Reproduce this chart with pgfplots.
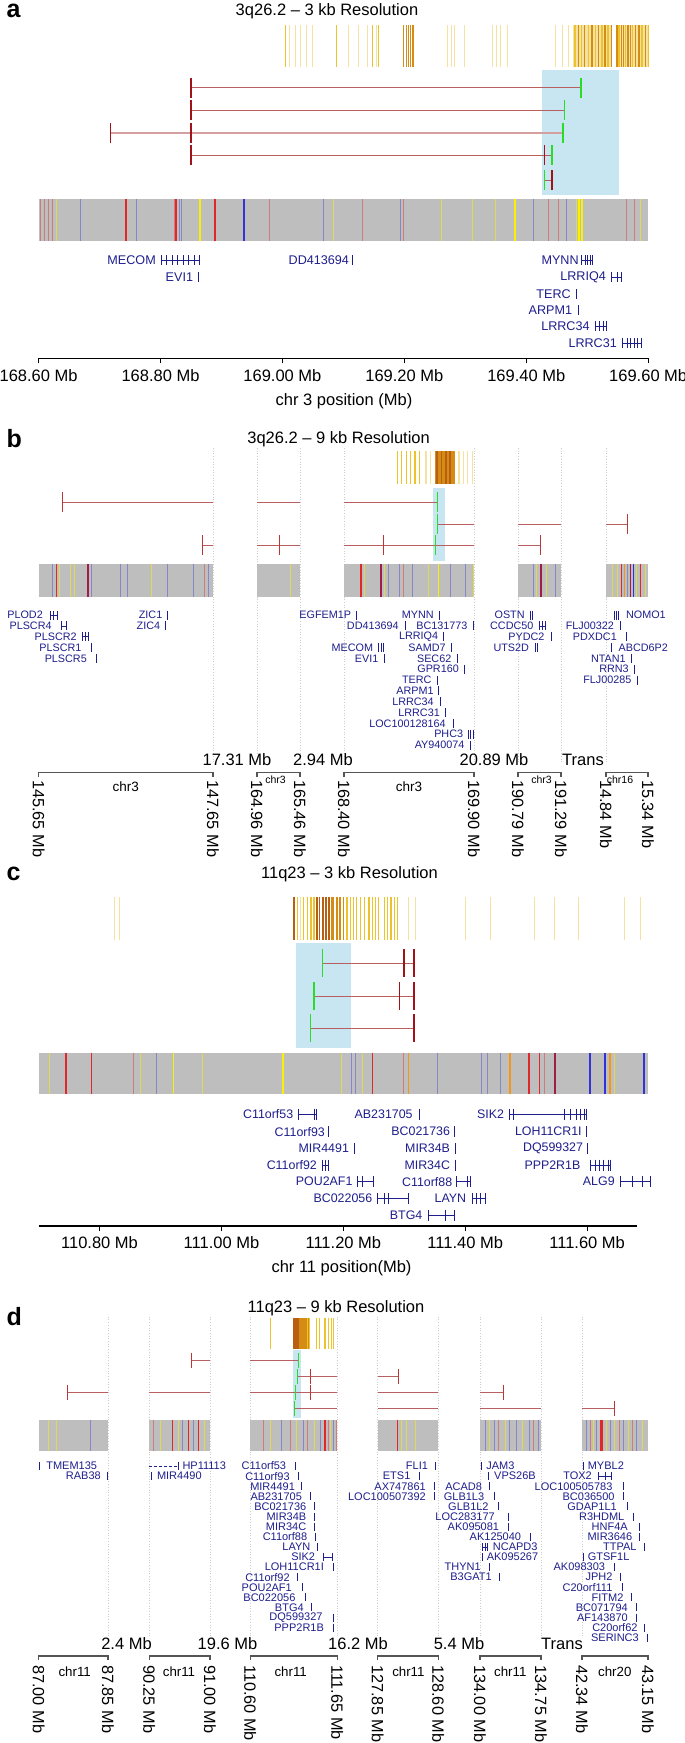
\documentclass[border=0pt]{standalone}
\usepackage{pgfplots}
\pgfplotsset{compat=1.18}
\usepackage{fontspec}
\setmainfont{Liberation Sans}

\definecolor{trk}{RGB}{190,190,190}
\definecolor{tred}{RGB}{225,40,40}
\definecolor{tblu}{RGB}{50,50,215}
\definecolor{tyel}{RGB}{250,240,0}
\definecolor{tora}{RGB}{245,150,20}
\definecolor{tpur}{RGB}{160,30,70}
\colorlet{fred}{tred!45!trk}
\colorlet{fblu}{tblu!40!trk}
\colorlet{fyel}{tyel!55!trk}
\definecolor{ob1}{RGB}{236,195,45}
\definecolor{ob2}{RGB}{246,226,160}
\definecolor{ob3}{RGB}{212,140,20}
\definecolor{ob4}{RGB}{185,95,20}
\definecolor{lnk}{RGB}{185,95,95}
\definecolor{tkred}{RGB}{160,20,25}
\definecolor{tkred2}{RGB}{185,55,55}
\definecolor{tkgrn}{RGB}{40,220,40}
\definecolor{hibox}{RGB}{200,230,242}
\definecolor{genec}{RGB}{30,30,140}
\definecolor{brk}{RGB}{85,85,85}
\definecolor{dots}{RGB}{205,205,205}

\newcommand{\fs}[1]{\fontsize{#1}{#1}\selectfont}
\newcommand{\gf}{\fs{12.6}}
\tikzset{gene/.style={inner sep=0pt, text=genec, font=\gf}}
\newcommand{\gL}[3]{\node[gene,anchor=east] at (axis cs:#1,#2) {#3};}
\newcommand{\gR}[3]{\node[gene,anchor=west] at (axis cs:#1,#2) {#3};}
\newcommand{\rl}[3]{\node[rotate=-90,anchor=west,inner sep=0pt,font=\fs{16.3}] at (axis cs:#1,#2) {#3};}

\pgfplotsset{
  every axis/.append style={scale only axis, clip=false, unbounded coords=jump},
  strip/.style 2 args={only marks, mark=|, mark size=#1, mark options={line width=#2}},
  lnk/.style={draw=lnk, line width=1pt},
  mbaxis/.style={axis x line*=bottom, hide y axis,
    axis line style={-, line width=1.2pt, black},
    xtick align=outside, major tick length=5pt,
    tick style={line width=1.1pt, black},
    scaled x ticks=false,
    xticklabel={\pgfmathprintnumber[fixed,fixed zerofill,precision=2,assume math mode=true]{\tick}~Mb},
    xticklabel style={font=\fs{16.5}, inner sep=0pt, anchor=north, yshift=-5.8pt}},
}

\begin{document}
\begin{tikzpicture}
\useasboundingbox (0pt,0pt) rectangle (685pt,-1743pt);

% ---------------- panel a ----------------
\begin{axis}[at={(38.6pt,0pt)}, anchor=north west, width=609.6pt, height=358.3pt,
  xmin=168.6, xmax=169.6, ymin=-358.3, ymax=0, mbaxis,
  xtick={168.6,168.8,169.0,169.2,169.4,169.6}]
\addplot[fill=hibox, draw=none] coordinates {(169.425,-70)(169.552,-70)(169.552,-195)(169.425,-195)};
\addplot[fill=ob2, draw=none] coordinates {(169.480,-25)(169.540,-25)(169.540,-67)(169.480,-67)};
\addplot[fill=ob2, draw=none] coordinates {(169.549,-25)(169.601,-25)(169.601,-67)(169.549,-67)};
\addplot[strip={21pt}{1pt}, color=ob2] coordinates {(169.012,-46)(169.021,-46)(169.030,-46)(169.039,-46)(169.050,-46)(169.109,-46)(169.124,-46)(169.140,-46)(169.155,-46)(169.271,-46)(169.277,-46)(169.282,-46)(169.299,-46)(169.344,-46)(169.351,-46)(169.358,-46)(169.369,-46)(169.448,-46)(169.459,-46)(169.470,-46)(169.477,-46)};
\addplot[strip={21pt}{1.3pt}, color=ob1] coordinates {(169.005,-46)(169.089,-46)(169.148,-46)(169.158,-46)(169.480,-46)(169.491,-46)(169.502,-46)(169.513,-46)(169.524,-46)(169.534,-46)(169.552,-46)(169.563,-46)(169.574,-46)(169.590,-46)(169.601,-46)};
\addplot[strip={21pt}{1.3pt}, color=ob3] coordinates {(169.199,-46)(169.203,-46)(169.207,-46)(169.210,-46)(169.214,-46)(169.486,-46)(169.496,-46)(169.508,-46)(169.518,-46)(169.529,-46)(169.540,-46)(169.549,-46)(169.556,-46)(169.560,-46)(169.567,-46)(169.571,-46)(169.579,-46)(169.585,-46)(169.596,-46)};
% interactions
\addplot[lnk] coordinates {(168.850,-87.7)(169.490,-87.7)};
\addplot[lnk] coordinates {(168.850,-110)(169.463,-110)};
\addplot[lnk, line width=1.6pt, draw=lnk!60!white] coordinates {(168.718,-132.7)(169.460,-132.7)};
\addplot[lnk] coordinates {(168.850,-155.3)(169.442,-155.3)};
\addplot[lnk] coordinates {(169.430,-180)(169.442,-180)};
\addplot[strip={10pt}{1.6pt}, color=tkred] coordinates {(168.850,-87.7)(168.850,-110)(168.718,-132.7)(168.850,-132.7)(168.850,-155.3)(169.430,-155.3)(169.442,-180)};
\addplot[strip={10pt}{1.6pt}, color=tkgrn] coordinates {(169.490,-87.7)(169.463,-110)(169.460,-132.7)(169.442,-155.3)(169.430,-180)};
% track
\addplot[fill=trk, draw=none] coordinates {(168.6,-199.3)(169.6,-199.3)(169.6,-241)(168.6,-241)};
\addplot[strip={20.85pt}{0.8pt}, color=fred] coordinates {(168.603,-220.15)(168.609,-220.15)(168.616,-220.15)(168.622,-220.15)(168.823,-220.15)(168.978,-220.15)(169.131,-220.15)(169.199,-220.15)(169.437,-220.15)(169.452,-220.15)(169.565,-220.15)(169.578,-220.15)};
\addplot[strip={20.85pt}{0.8pt}, color=fblu] coordinates {(168.669,-220.15)(168.760,-220.15)(168.831,-220.15)(168.834,-220.15)(169.068,-220.15)(169.194,-220.15)(169.412,-220.15)(169.466,-220.15)};
\addplot[strip={20.85pt}{0.8pt}, color=fyel] coordinates {(168.629,-220.15)(169.084,-220.15)(169.261,-220.15)(169.311,-220.15)(169.349,-220.15)(169.482,-220.15)(169.588,-220.15)};
\addplot[strip={20.85pt}{1.8pt}, color=tred] coordinates {(168.744,-220.15)(168.826,-220.15)(168.890,-220.15)};
\addplot[strip={20.85pt}{1.8pt}, color=tblu] coordinates {(168.937,-220.15)};
\addplot[strip={20.85pt}{2pt}, color=tyel] coordinates {(168.865,-220.15)(169.381,-220.15)(169.486,-220.15)(169.491,-220.15)};
% genes
\addplot[draw=genec, line width=0.6pt] coordinates {(168.8018,-260)(168.8645,-260) (nan,nan) (169.4913,-260)(169.5093,-260) (nan,nan) (169.5402,-277.3)(169.5561,-277.3) (nan,nan) (169.5129,-326)(169.5309,-326) (nan,nan) (169.5583,-343.3)(169.5885,-343.3)};
\addplot[strip={5pt}{0.9pt}, color=genec] coordinates {(168.8018,-260)(168.8105,-260)(168.8191,-260)(168.8285,-260)(168.8378,-260)(168.8465,-260)(168.8558,-260)(168.8645,-260)(168.8630,-277.3)(169.1152,-260)(169.4913,-260)(169.4963,-260)(169.5006,-260)(169.5057,-260)(169.5093,-260)(169.5402,-277.3)(169.5489,-277.3)(169.5561,-277.3)(169.4826,-294)(169.4862,-310)(169.5129,-326)(169.5201,-326)(169.5273,-326)(169.5309,-326)(169.5583,-343.3)(169.5655,-343.3)(169.5712,-343.3)(169.5777,-343.3)(169.5828,-343.3)(169.5885,-343.3)};
\gL{168.7925}{-260}{MECOM}
\gL{168.8537}{-277.3}{EVI1}
\gL{169.1094}{-260}{DD413694}
\gL{169.4862}{-260}{MYNN}
\gL{169.5309}{-277.3}{LRRIQ4}
\gL{169.4732}{-294}{TERC}
\gL{169.4754}{-310}{ARPM1}
\gL{169.5042}{-326}{LRRC34}
\gL{169.5489}{-343.3}{LRRC31}
\node[font=\fs{16.5}] at (axis cs:169.101,-401.7) {chr 3 position (Mb)};
\end{axis}

% ---------------- panel b ----------------
\renewcommand{\gf}{\fs{10.8}}
\begin{axis}[at={(0pt,-420pt)}, anchor=north west, width=685pt, height=440pt,
  xmin=0, xmax=685, ymin=-860, ymax=-420, hide axis]
\addplot[draw=dots, dotted, line width=0.7pt] coordinates {(213,-448)(213,-763) (nan,nan) (257,-448)(257,-763) (nan,nan) (300,-448)(300,-763) (nan,nan) (344,-448)(344,-763) (nan,nan) (474,-448)(474,-763) (nan,nan) (518,-448)(518,-763) (nan,nan) (561,-448)(561,-763) (nan,nan) (606,-448)(606,-763)};
\addplot[fill=ob3, draw=none] coordinates {(434.8,-450.7)(454.5,-450.7)(454.5,-484)(434.8,-484)};
\addplot[strip={16.65pt}{1.3pt}, color=ob1] coordinates {(397.4,-467.35)(401.8,-467.35)(406.2,-467.35)(410.6,-467.35)(415,-467.35)(419.4,-467.35)};
\addplot[strip={16.65pt}{1.2pt}, color=ob2] coordinates {(426,-467.35)(430.4,-467.35)(458.9,-467.35)(463.3,-467.35)(467.7,-467.35)(472.1,-467.35)};
\addplot[strip={16.65pt}{1.5pt}, color=ob4] coordinates {(437,-467.35)(441.4,-467.35)(445.8,-467.35)(450.2,-467.35)};
\addplot[fill=hibox, draw=none] coordinates {(432.6,-487.7)(444.5,-487.7)(444.5,-560.7)(432.6,-560.7)};
\addplot[lnk, line width=0.9pt] coordinates {(62.8,-502.3)(213,-502.3) (nan,nan) (257,-502.3)(300,-502.3) (nan,nan) (344,-502.3)(437,-502.3)};
\addplot[lnk, line width=0.9pt] coordinates {(437,-524)(474,-524) (nan,nan) (518,-524)(561,-524) (nan,nan) (606,-524)(627,-524)};
\addplot[lnk, line width=0.9pt] coordinates {(202,-545.3)(213,-545.3) (nan,nan) (257,-545.3)(300,-545.3) (nan,nan) (344,-545.3)(474,-545.3) (nan,nan) (518,-545.3)(540,-545.3)};
\addplot[strip={10pt}{1pt}, color=tkred2] coordinates {(62.8,-502.3)(627,-524)(202,-545.3)(279,-545.3)(383,-545.3)(540,-545.3)};
\addplot[strip={10pt}{0.9pt}, color=tkgrn] coordinates {(437,-502.3)(437,-524)(435.7,-545.3)};
% tracks
\addplot[fill=trk, draw=none] coordinates {(38.6,-564)(213,-564)(213,-596.7)(38.6,-596.7)};
\addplot[fill=trk, draw=none] coordinates {(257,-564)(300,-564)(300,-596.7)(257,-596.7)};
\addplot[fill=trk, draw=none] coordinates {(344,-564)(474,-564)(474,-596.7)(344,-596.7)};
\addplot[fill=trk, draw=none] coordinates {(518,-564)(561,-564)(561,-596.7)(518,-596.7)};
\addplot[fill=trk, draw=none] coordinates {(606,-564)(648,-564)(648,-596.7)(606,-596.7)};
\addplot[strip={16.35pt}{0.8pt}, color=fblu] coordinates {(52.7,-580.35)(91.3,-580.35)(120.8,-580.35)(127.4,-580.35)(166.9,-580.35)(193.2,-580.35)(208.6,-580.35)(388.7,-580.35)(399.6,-580.35)(412.8,-580.35)(450.2,-580.35)(465.5,-580.35)(533.6,-580.35)(555.5,-580.35)(627.1,-580.35)};
\addplot[strip={16.35pt}{0.8pt}, color=fred] coordinates {(204.2,-580.35)(403.2,-580.35)};
\addplot[strip={16.35pt}{0.8pt}, color=fyel] coordinates {(59.3,-580.35)(70.3,-580.35)(74.7,-580.35)(151.5,-580.35)(289.9,-580.35)(364.5,-580.35)(384.3,-580.35)(428.2,-580.35)(473.4,-580.35)(536.7,-580.35)(546.8,-580.35)(612.6,-580.35)(617,-580.35)(636.8,-580.35)(645.6,-580.35)};
\addplot[strip={16.35pt}{1.4pt}, color=tred] coordinates {(56.2,-580.35)(361,-580.35)(621.4,-580.35)(640.3,-580.35)};
\addplot[strip={16.35pt}{1.4pt}, color=tpur] coordinates {(87.8,-580.35)(380.8,-580.35)(630.2,-580.35)};
\addplot[strip={16.35pt}{1.9pt}, color=tpur] coordinates {(541.1,-580.35)};
\addplot[strip={16.35pt}{1.4pt}, color=tyel] coordinates {(438.3,-580.35)};
\addplot[strip={16.35pt}{1.4pt}, color=tora] coordinates {(624.5,-580.35)};
\addplot[strip={16.35pt}{1.2pt}, color=tblu] coordinates {(633.3,-580.35)};
% genes
\addplot[draw=genec, line width=0.6pt] coordinates {(50,-615)(57,-615) (nan,nan) (61.5,-625.8)(66,-625.8) (nan,nan) (82,-636.7)(88,-636.7) (nan,nan) (539,-625.8)(545,-625.8)};
\addplot[strip={4.5pt}{1pt}, color=genec] coordinates {(50,-615)(53,-615)(57,-615)(61.5,-625.8)(66,-625.8)(82,-636.7)(85,-636.7)(88,-636.7)(91,-647.5)(96,-658.3)(167,-615)(165.6,-625.8)(356.6,-615)(439,-615)(405,-625.8)(473,-625.8)(443.6,-636.7)(378.6,-647.5)(381,-647.5)(383,-647.5)(451,-647.5)(384,-658.3)(457,-658.3)(464.6,-669.2)(437,-680)(438,-690.8)(440,-701.7)(445.7,-712.5)(453.6,-723.3)(468,-734.2)(470.5,-734.2)(473,-734.2)(470.8,-745)(530.5,-615)(532.5,-615)(539,-625.8)(542,-625.8)(545,-625.8)(551,-636.7)(535,-647.5)(537,-647.5)(614,-615)(616,-615)(618.4,-615)(620,-625.8)(626,-636.7)(611,-647.5)(631,-658.3)(634,-669.2)(637,-680)};
\gL{43}{-615}{PLOD2}
\gL{51.8}{-625.8}{PLSCR4}
\gL{76.9}{-636.7}{PLSCR2}
\gL{81.7}{-647.5}{PLSCR1}
\gL{87}{-658.3}{PLSCR5}
\gL{162.5}{-615}{ZIC1}
\gL{160.3}{-625.8}{ZIC4}
\gL{351.3}{-615}{EGFEM1P}
\gL{433.9}{-615}{MYNN}
\gL{398.8}{-625.8}{DD413694}
\gL{467.7}{-625.8}{BC131773}
\gL{438.3}{-636.7}{LRRIQ4}
\gL{373.3}{-647.5}{MECOM}
\gL{445.8}{-647.5}{SAMD7}
\gL{378.6}{-658.3}{EVI1}
\gL{451.5}{-658.3}{SEC62}
\gL{459}{-669.2}{GPR160}
\gL{431.7}{-680}{TERC}
\gL{433.9}{-690.8}{ARPM1}
\gL{433.9}{-701.7}{LRRC34}
\gL{440}{-712.5}{LRRC31}
\gL{445.8}{-723.3}{LOC100128164}
\gL{463.3}{-734.2}{PHC3}
\gL{464.6}{-745}{AY940074}
\gL{524.8}{-615}{OSTN}
\gL{533.6}{-625.8}{CCDC50}
\gL{544.6}{-636.7}{PYDC2}
\gL{529.2}{-647.5}{UTS2D}
\gR{625.9}{-615}{NOMO1}
\gL{614}{-625.8}{FLJ00322}
\gL{617}{-636.7}{PDXDC1}
\gR{618.4}{-647.5}{ABCD6P2}
\gL{625.8}{-658.3}{NTAN1}
\gL{628.9}{-669.2}{RRN3}
\gL{631.5}{-680}{FLJ00285}
% gaps, brackets, positions
\node[font=\fs{16.5}] at (axis cs:237,-760) {17.31 Mb};
\node[font=\fs{16.5}] at (axis cs:323,-760) {2.94 Mb};
\node[font=\fs{16.5}] at (axis cs:494,-760) {20.89 Mb};
\node[font=\fs{16.5}] at (axis cs:583,-760) {Trans};
\addplot[draw=brk, line width=1.3pt] coordinates {(38.6,-777)(38.6,-772.3)(213,-772.3)(213,-777) (nan,nan) (257,-777)(257,-772.3)(300,-772.3)(300,-777) (nan,nan) (344,-777)(344,-772.3)(474,-772.3)(474,-777) (nan,nan) (518,-777)(518,-772.3)(561,-772.3)(561,-777) (nan,nan) (606,-777)(606,-772.3)(648,-772.3)(648,-777)};
\node[font=\fs{13.5}] at (axis cs:125.8,-786.7) {chr3};
\node[font=\fs{10.5}] at (axis cs:275.6,-780) {chr3};
\node[font=\fs{13.5}] at (axis cs:409,-786.7) {chr3};
\node[font=\fs{10.5}] at (axis cs:541.5,-780) {chr3};
\node[font=\fs{10.5}] at (axis cs:620,-780) {chr16};
\rl{38.6}{-780}{145.65 Mb}
\rl{213}{-780}{147.65 Mb}
\rl{257}{-780}{164.96 Mb}
\rl{300}{-780}{165.46 Mb}
\rl{344}{-780}{168.40 Mb}
\rl{474}{-780}{169.90 Mb}
\rl{518}{-780}{190.79 Mb}
\rl{561}{-780}{191.29 Mb}
\rl{606}{-780}{14.84 Mb}
\rl{648}{-780}{15.34 Mb}
\end{axis}

% ---------------- panel c ----------------
\renewcommand{\gf}{\fs{12.4}}
\begin{axis}[at={(38.6pt,-860pt)}, anchor=north west, width=598.5pt, height=366pt,
  xmin=110.70, xmax=111.682, ymin=-1226, ymax=-860, mbaxis,
  xtick={110.8,111.0,111.2,111.4,111.6}]
\addplot[strip={21.65pt}{1pt}, color=ob2] coordinates {(110.825,-918.35)(110.833,-918.35)(111.130,-918.35)(111.307,-918.35)(111.318,-918.35)(111.400,-918.35)(111.442,-918.35)(111.514,-918.35)(111.546,-918.35)(111.586,-918.35)(111.661,-918.35)(111.687,-918.35)};
\addplot[strip={21.65pt}{1.3pt}, color=ob1] coordinates {(111.125,-918.35)(111.135,-918.35)(111.141,-918.35)(111.147,-918.35)(111.152,-918.35)(111.206,-918.35)(111.212,-918.35)(111.217,-918.35)(111.222,-918.35)(111.228,-918.35)(111.235,-918.35)(111.242,-918.35)(111.248,-918.35)(111.253,-918.35)(111.258,-918.35)(111.267,-918.35)(111.272,-918.35)(111.278,-918.35)(111.284,-918.35)(111.289,-918.35)};
\addplot[strip={21.65pt}{1.6pt}, color=ob3] coordinates {(111.181,-918.35)(111.184,-918.35)(111.190,-918.35)(111.195,-918.35)(111.200,-918.35)};
\addplot[strip={21.65pt}{1.8pt}, color=ob4] coordinates {(111.119,-918.35)(111.157,-918.35)(111.161,-918.35)(111.166,-918.35)(111.171,-918.35)(111.176,-918.35)};
\addplot[fill=hibox, draw=none] coordinates {(111.123,-943.3)(111.213,-943.3)(111.213,-1048.3)(111.123,-1048.3)};
\addplot[lnk] coordinates {(111.166,-963.3)(111.316,-963.3)};
\addplot[lnk] coordinates {(111.152,-996)(111.316,-996)};
\addplot[lnk] coordinates {(111.146,-1028.3)(111.316,-1028.3)};
\addplot[strip={14pt}{1.6pt}, color=tkred] coordinates {(111.300,-963.3)(111.316,-963.3)(111.292,-996)(111.316,-996)(111.316,-1028.3)};
\addplot[strip={14pt}{1.6pt}, color=tkgrn] coordinates {(111.166,-963.3)(111.152,-996)(111.146,-1028.3)};
% track
\addplot[fill=trk, draw=none] coordinates {(110.70,-1052.7)(111.70,-1052.7)(111.70,-1094.3)(110.70,-1094.3)};
\addplot[strip={20.8pt}{0.8pt}, color=fyel] coordinates {(110.717,-1073.5)(110.867,-1073.5)(110.968,-1073.5)(111.197,-1073.5)(111.231,-1073.5)(111.644,-1073.5)};
\addplot[strip={20.8pt}{1.2pt}, color=tyel] coordinates {(110.921,-1073.5)(111.101,-1073.5)};
\addplot[strip={20.8pt}{0.8pt}, color=fred] coordinates {(110.855,-1073.5)(111.298,-1073.5)(111.530,-1073.5)};
\addplot[strip={20.8pt}{1.2pt}, color=tred] coordinates {(110.745,-1073.5)(110.787,-1073.5)(111.248,-1073.5)(111.522,-1073.5)};
\addplot[strip={20.8pt}{2.2pt}, color=tred] coordinates {(111.505,-1073.5)};
\addplot[strip={20.8pt}{2.2pt}, color=tpur] coordinates {(111.547,-1073.5)};
\addplot[strip={20.8pt}{0.8pt}, color=fblu] coordinates {(110.894,-1073.5)(111.213,-1073.5)(111.220,-1073.5)(111.355,-1073.5)(111.426,-1073.5)(111.436,-1073.5)(111.458,-1073.5)};
\addplot[strip={20.8pt}{2pt}, color=tblu] coordinates {(111.604,-1073.5)(111.630,-1073.5)(111.694,-1073.5)};
\addplot[strip={20.8pt}{1.5pt}, color=tora] coordinates {(111.307,-1073.5)};
\addplot[strip={20.8pt}{2.2pt}, color=tora] coordinates {(111.474,-1073.5)(111.638,-1073.5)};
% genes
\addplot[draw=genec, line width=0.6pt] coordinates {(111.1267,-1114)(111.1555,-1114) (nan,nan) (111.4725,-1114)(111.5986,-1114) (nan,nan) (111.1663,-1165)(111.1757,-1165) (nan,nan) (111.6058,-1165)(111.6383,-1165) (nan,nan) (111.2239,-1181.7)(111.2492,-1181.7) (nan,nan) (111.3861,-1181.7)(111.4091,-1181.7) (nan,nan) (111.6548,-1181.7)(111.7031,-1181.7) (nan,nan) (111.2564,-1198.7)(111.3068,-1198.7) (nan,nan) (111.4113,-1198.7)(111.4329,-1198.7) (nan,nan) (111.3392,-1215.7)(111.3825,-1215.7)};
\addplot[strip={5.5pt}{0.9pt}, color=genec] coordinates {(111.1267,-1114)(111.1519,-1114)(111.1555,-1114)(111.3248,-1114)(111.4725,-1114)(111.4797,-1114)(111.5626,-1114)(111.5734,-1114)(111.5820,-1114)(111.5892,-1114)(111.5950,-1114)(111.5986,-1114)(111.1757,-1131.7)(111.3825,-1131.7)(111.5993,-1131.7)(111.2189,-1148.3)(111.3846,-1148.3)(111.6008,-1148.3)(111.1663,-1165)(111.1700,-1165)(111.1757,-1165)(111.3846,-1165)(111.6058,-1165)(111.6130,-1165)(111.6202,-1165)(111.6275,-1165)(111.6347,-1165)(111.6383,-1165)(111.2239,-1181.7)(111.2311,-1181.7)(111.2492,-1181.7)(111.3861,-1181.7)(111.4041,-1181.7)(111.4091,-1181.7)(111.6548,-1181.7)(111.6743,-1181.7)(111.6901,-1181.7)(111.7031,-1181.7)(111.2564,-1198.7)(111.2672,-1198.7)(111.2744,-1198.7)(111.3068,-1198.7)(111.4113,-1198.7)(111.4185,-1198.7)(111.4257,-1198.7)(111.4329,-1198.7)(111.3392,-1215.7)(111.3680,-1215.7)(111.3825,-1215.7)};
\gL{111.1180}{-1114}{C11orf53}
\gL{111.3140}{-1114}{AB231705}
\gL{111.4639}{-1114}{SIK2}
\gL{111.1699}{-1131.7}{C11orf93}
\gL{111.3753}{-1131.7}{BC021736}
\gL{111.5914}{-1131.7}{LOH11CR1I}
\gL{111.2095}{-1148.3}{MIR4491}
\gL{111.3753}{-1148.3}{MIR34B}
\gL{111.5936}{-1148.3}{DQ599327}
\gL{111.1569}{-1165}{C11orf92}
\gL{111.3753}{-1165}{MIR34C}
\gL{111.5892}{-1165}{PPP2R1B}
\gL{111.2153}{-1181.7}{POU2AF1}
\gL{111.3789}{-1181.7}{C11orf88}
\gL{111.6455}{-1181.7}{ALG9}
\gL{111.2477}{-1198.7}{BC022056}
\gL{111.4019}{-1198.7}{LAYN}
\gL{111.3299}{-1215.7}{BTG4}
\node[font=\fs{16.5}] at (axis cs:111.197,-1268.3) {chr 11 position(Mb)};
\end{axis}

% ---------------- panel d ----------------
\renewcommand{\gf}{\fs{11}}
\begin{axis}[at={(0pt,-1290pt)}, anchor=north west, width=685pt, height=453pt,
  xmin=0, xmax=685, ymin=-1743, ymax=-1290, hide axis]
\addplot[draw=dots, dotted, line width=0.7pt] coordinates {(108,-1316.7)(108,-1636.7) (nan,nan) (149.3,-1316.7)(149.3,-1636.7) (nan,nan) (210,-1316.7)(210,-1636.7) (nan,nan) (250.3,-1316.7)(250.3,-1636.7) (nan,nan) (337.3,-1316.7)(337.3,-1636.7) (nan,nan) (377.7,-1316.7)(377.7,-1636.7) (nan,nan) (438.3,-1316.7)(438.3,-1636.7) (nan,nan) (480,-1316.7)(480,-1636.7) (nan,nan) (541,-1316.7)(541,-1636.7) (nan,nan) (582,-1316.7)(582,-1636.7)};
\addplot[fill=ob3, draw=none] coordinates {(293.4,-1318.3)(310,-1318.3)(310,-1349.3)(293.4,-1349.3)};
\addplot[strip={15.5pt}{1.2pt}, color=ob1] coordinates {(270.1,-1333.8)(307.4,-1333.8)(309.2,-1333.8)(316.2,-1333.8)(319.7,-1333.8)(325,-1333.8)(328.5,-1333.8)(331.6,-1333.8)(333.8,-1333.8)};
\addplot[strip={15.5pt}{1.5pt}, color=ob4] coordinates {(293.4,-1333.8)(295.1,-1333.8)(296.9,-1333.8)(298.6,-1333.8)};
\addplot[fill=hibox, draw=none] coordinates {(293.4,-1350)(301.3,-1350)(301.3,-1418.3)(293.4,-1418.3)};
\addplot[lnk, line width=0.9pt] coordinates {(191,-1360.7)(210,-1360.7) (nan,nan) (250.3,-1360.7)(298.6,-1360.7)};
\addplot[lnk, line width=0.9pt] coordinates {(297.3,-1376.7)(337.3,-1376.7) (nan,nan) (377.7,-1376.7)(398,-1376.7)};
\addplot[lnk, line width=0.9pt] coordinates {(67.2,-1392.7)(108,-1392.7) (nan,nan) (149.3,-1392.7)(210,-1392.7) (nan,nan) (250.3,-1392.7)(337.3,-1392.7) (nan,nan) (377.7,-1392.7)(438.3,-1392.7) (nan,nan) (480,-1392.7)(503,-1392.7)};
\addplot[lnk, line width=0.9pt] coordinates {(294,-1408.3)(337.3,-1408.3) (nan,nan) (377.7,-1408.3)(438.3,-1408.3) (nan,nan) (480,-1408.3)(541,-1408.3) (nan,nan) (582,-1408.3)(614.8,-1408.3)};
\addplot[strip={7.5pt}{1pt}, color=tkred2] coordinates {(191,-1360.7)(310,-1376.7)(398,-1376.7)(67.2,-1392.7)(310,-1392.7)(503,-1392.7)(614.8,-1408.3)};
\addplot[strip={7.5pt}{0.9pt}, color=tkgrn] coordinates {(298.6,-1360.7)(297.3,-1376.7)(295.6,-1392.7)(294,-1408.3)};
% tracks
\addplot[fill=trk, draw=none] coordinates {(38.6,-1420)(108,-1420)(108,-1450.7)(38.6,-1450.7)};
\addplot[fill=trk, draw=none] coordinates {(149.3,-1420)(210,-1420)(210,-1450.7)(149.3,-1450.7)};
\addplot[fill=trk, draw=none] coordinates {(250.3,-1420)(337.3,-1420)(337.3,-1450.7)(250.3,-1450.7)};
\addplot[fill=trk, draw=none] coordinates {(377.7,-1420)(438.3,-1420)(438.3,-1450.7)(377.7,-1450.7)};
\addplot[fill=trk, draw=none] coordinates {(480,-1420)(541,-1420)(541,-1450.7)(480,-1450.7)};
\addplot[fill=trk, draw=none] coordinates {(582,-1420)(648,-1420)(648,-1450.7)(582,-1450.7)};
\addplot[strip={15.35pt}{0.8pt}, color=fyel] coordinates {(48.3,-1435.35)(56.2,-1435.35)(160.3,-1435.35)(177.9,-1435.35)(204.2,-1435.35)(270.1,-1435.35)(296.4,-1435.35)(314,-1435.35)(330.3,-1435.35)(401.8,-1435.35)(406.2,-1435.35)(415,-1435.35)(489.7,-1435.35)(505,-1435.35)(522.6,-1435.35)(593.8,-1435.35)(606,-1435.35)(614.8,-1435.35)(628,-1435.35)(642.1,-1435.35)};
\addplot[strip={15.35pt}{0.8pt}, color=fblu] coordinates {(90,-1435.35)(182.3,-1435.35)(193.2,-1435.35)(281,-1435.35)(303,-1435.35)(320.6,-1435.35)(333.8,-1435.35)(485.3,-1435.35)(494,-1435.35)(509.4,-1435.35)(516,-1435.35)(529.2,-1435.35)(538,-1435.35)(586.3,-1435.35)(596.4,-1435.35)(610.4,-1435.35)(623.6,-1435.35)(636.8,-1435.35)};
\addplot[strip={15.35pt}{0.8pt}, color=fred] coordinates {(153.7,-1435.35)(263.5,-1435.35)(289.9,-1435.35)(307.4,-1435.35)(328.5,-1435.35)(336,-1435.35)(498.5,-1435.35)(533.6,-1435.35)(590.7,-1435.35)(619.2,-1435.35)(632.4,-1435.35)};
\addplot[strip={15.35pt}{1.3pt}, color=tred] coordinates {(172.2,-1435.35)(188.8,-1435.35)(198.5,-1435.35)(325,-1435.35)(397.4,-1435.35)};
\addplot[strip={15.35pt}{3pt}, color=tred] coordinates {(601.6,-1435.35)};
% genes
\addplot[draw=genec, line width=0.6pt, densely dashed] coordinates {(149.3,-1466)(178,-1466)};
\addplot[draw=genec, line width=0.6pt] coordinates {(323,-1556.9)(332.5,-1556.9) (nan,nan) (482.2,-1546.8)(487.5,-1546.8) (nan,nan) (598,-1476.1)(611,-1476.1)};
\addplot[strip={4pt}{0.9pt}, color=genec] coordinates {(39.5,-1466)(107.6,-1476.1)(178,-1466)(151.5,-1476.1)(295.6,-1466)(298.6,-1476.1)(301.7,-1486.2)(310,-1496.3)(314.5,-1506.4)(314.5,-1516.5)(314.5,-1526.6)(315,-1536.7)(317,-1546.8)(323,-1556.9)(332.5,-1556.9)(333,-1567)(297,-1577.1)(302,-1587.2)(305,-1597.3)(311.8,-1607.4)(333,-1617.5)(333.8,-1627.6)(435.7,-1466)(419.4,-1476.1)(434.8,-1486.2)(434.8,-1496.3)(481.8,-1466)(488,-1476.1)(489.7,-1486.2)(494,-1496.3)(498.5,-1506.4)(508.6,-1516.5)(508.6,-1526.6)(530.5,-1536.7)(482.2,-1546.8)(485,-1546.8)(487.5,-1546.8)(482.2,-1556.9)(489.7,-1567)(499.8,-1577.1)(583,-1466)(598,-1476.1)(605,-1476.1)(611,-1476.1)(623.6,-1486.2)(623.6,-1496.3)(627,-1506.4)(633.7,-1516.5)(639,-1526.6)(639,-1536.7)(644.7,-1546.8)(583,-1556.9)(614.8,-1567)(620.5,-1577.1)(622.7,-1587.2)(631.5,-1597.3)(636.8,-1607.4)(636.8,-1617.5)(644.7,-1627.6)(647,-1637.7)};
\gR{46.1}{-1466}{TMEM135}
\gL{101}{-1476.1}{RAB38}
\gR{182.3}{-1466}{HP11113}
\gR{156.8}{-1476.1}{MIR4490}
\gL{286.3}{-1466}{C11orf53}
\gL{289.9}{-1476.1}{C11orf93}
\gL{295.1}{-1486.2}{MIR4491}
\gL{302.1}{-1496.3}{AB231705}
\gL{306.5}{-1506.4}{BC021736}
\gL{306.5}{-1516.5}{MIR34B}
\gL{306.5}{-1526.6}{MIR34C}
\gL{307.4}{-1536.7}{C11orf88}
\gL{310.5}{-1546.8}{LAYN}
\gL{315.3}{-1556.9}{SIK2}
\gL{324.1}{-1567}{LOH11CR1I}
\gL{289.9}{-1577.1}{C11orf92}
\gL{292}{-1587.2}{POU2AF1}
\gL{295.6}{-1597.3}{BC022056}
\gL{303.9}{-1607.4}{BTG4}
\gL{322.8}{-1617.5}{DQ599327}
\gL{324.1}{-1627.6}{PPP2R1B}
\gL{428.2}{-1466}{FLI1}
\gL{410.6}{-1476.1}{ETS1}
\gL{426}{-1486.2}{AX747861}
\gL{426}{-1496.3}{LOC100507392}
\gR{486.2}{-1466}{JAM3}
\gR{494}{-1476.1}{VPS26B}
\gL{482.2}{-1486.2}{ACAD8}
\gL{484.4}{-1496.3}{GLB1L3}
\gL{488.8}{-1506.4}{GLB1L2}
\gL{495}{-1516.5}{LOC283177}
\gL{499.3}{-1526.6}{AK095081}
\gL{521.3}{-1536.7}{AK125040}
\gR{492.7}{-1546.8}{NCAPD3}
\gR{486.6}{-1556.9}{AK095267}
\gL{480.9}{-1567}{THYN1}
\gL{491.9}{-1577.1}{B3GAT1}
\gR{587.6}{-1466}{MYBL2}
\gL{592}{-1476.1}{TOX2}
\gL{612.6}{-1486.2}{LOC100505783}
\gL{614.8}{-1496.3}{BC036500}
\gL{617}{-1506.4}{GDAP1L1}
\gL{624.5}{-1516.5}{R3HDML}
\gL{628}{-1526.6}{HNF4A}
\gL{632.4}{-1536.7}{MIR3646}
\gL{636.8}{-1546.8}{TTPAL}
\gR{587.6}{-1556.9}{GTSF1L}
\gL{605.2}{-1567}{AK098303}
\gL{612.6}{-1577.1}{JPH2}
\gL{612.6}{-1587.2}{C20orf111}
\gL{623.6}{-1597.3}{FITM2}
\gL{628}{-1607.4}{BC071794}
\gL{628}{-1617.5}{AF143870}
\gL{637.7}{-1627.6}{C20orf62}
\gL{639}{-1637.7}{SERINC3}
% gaps, brackets, positions
\node[font=\fs{16.5}] at (axis cs:126.5,-1644) {2.4 Mb};
\node[font=\fs{16.5}] at (axis cs:227.5,-1644) {19.6 Mb};
\node[font=\fs{16.5}] at (axis cs:358,-1644) {16.2 Mb};
\node[font=\fs{16.5}] at (axis cs:459,-1644) {5.4 Mb};
\node[font=\fs{16.5}] at (axis cs:562,-1644) {Trans};
\addplot[draw=brk, line width=1.3pt] coordinates {(38.6,-1660)(38.6,-1656)(108,-1656)(108,-1660) (nan,nan) (149.3,-1660)(149.3,-1656)(210,-1656)(210,-1660) (nan,nan) (250.3,-1660)(250.3,-1656)(337.3,-1656)(337.3,-1660) (nan,nan) (377.7,-1660)(377.7,-1656)(438.3,-1656)(438.3,-1660) (nan,nan) (480,-1660)(480,-1656)(541,-1656)(541,-1660) (nan,nan) (582,-1660)(582,-1656)(648,-1656)(648,-1660)};
\node[font=\fs{13.3}] at (axis cs:74.7,-1671.7) {chr11};
\node[font=\fs{13.3}] at (axis cs:179,-1671.7) {chr11};
\node[font=\fs{13.3}] at (axis cs:290.7,-1671.7) {chr11};
\node[font=\fs{13.3}] at (axis cs:408.4,-1671.7) {chr11};
\node[font=\fs{13.3}] at (axis cs:510.3,-1671.7) {chr11};
\node[font=\fs{13.3}] at (axis cs:614.8,-1671.7) {chr20};
\rl{38.6}{-1665}{87.00 Mb}
\rl{108}{-1665}{87.85 Mb}
\rl{149.3}{-1665}{90.25 Mb}
\rl{210}{-1665}{91.00 Mb}
\rl{250.3}{-1665}{110.60 Mb}
\rl{337.3}{-1665}{111.65 Mb}
\rl{377.7}{-1665}{127.85 Mb}
\rl{438.3}{-1665}{128.60 Mb}
\rl{480}{-1665}{134.00 Mb}
\rl{541}{-1665}{134.75 Mb}
\rl{582}{-1665}{42.34 Mb}
\rl{648}{-1665}{43.15 Mb}
\end{axis}

% panel letters and titles
\node[font=\bfseries\fs{25}, anchor=base west, inner sep=0pt] at (6.5pt,-17pt) {a};
\node[font=\fs{16.5}, anchor=base, inner sep=0pt] at (327pt,-15.7pt) {3q26.2 – 3 kb Resolution};
\node[font=\bfseries\fs{25}, anchor=base west, inner sep=0pt] at (6.5pt,-447pt) {b};
\node[font=\fs{16.5}, anchor=base, inner sep=0pt] at (338.6pt,-443.3pt) {3q26.2 – 9 kb Resolution};
\node[font=\bfseries\fs{25}, anchor=base west, inner sep=0pt] at (6.5pt,-880pt) {c};
\node[font=\fs{16.5}, anchor=base, inner sep=0pt] at (349.5pt,-878.3pt) {11q23 – 3 kb Resolution};
\node[font=\bfseries\fs{25}, anchor=base west, inner sep=0pt] at (6.5pt,-1325pt) {d};
\node[font=\fs{16.5}, anchor=base, inner sep=0pt] at (336pt,-1312.7pt) {11q23 – 9 kb Resolution};
\end{tikzpicture}
\end{document}
